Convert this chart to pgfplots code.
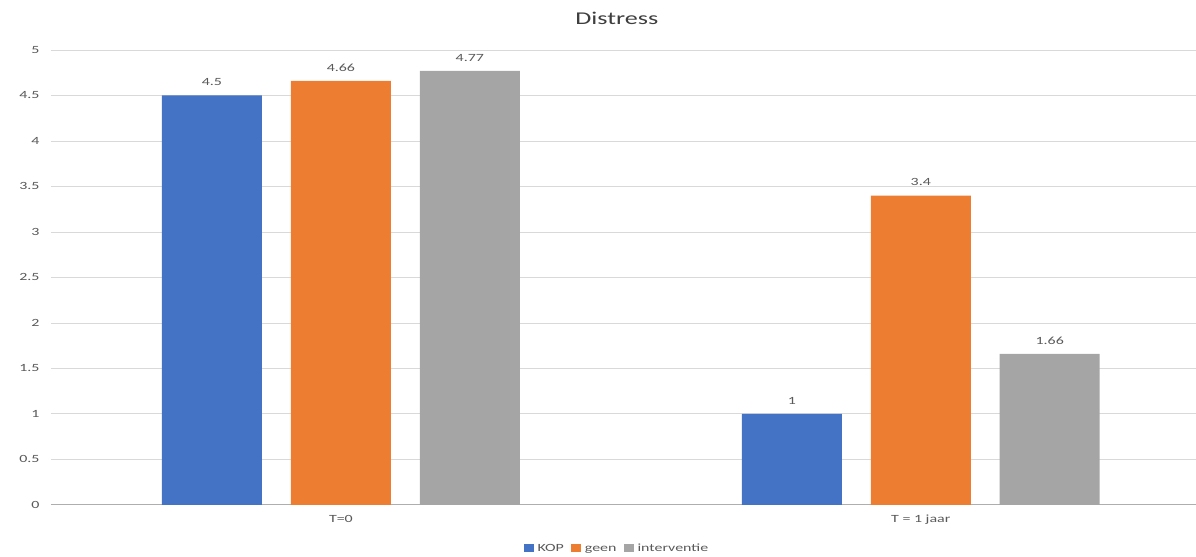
\documentclass[border=0pt]{standalone}
\usepackage{pgfplots}
\pgfplotsset{compat=1.18}
\usepackage{fontspec}
\setmainfont{Carlito}[FakeStretch=1.45]
\definecolor{cblue}{HTML}{4472C4}
\definecolor{corange}{HTML}{ED7D31}
\definecolor{cgray}{HTML}{A5A5A5}
\definecolor{ctext}{HTML}{595959}
\definecolor{cgrid}{HTML}{D9D9D9}
\begin{document}
\begin{tikzpicture}
\begin{axis}[
  at={(0,0)}, anchor=south west,
  scale only axis,
  width=1145pt, height=455pt,
  xmin=-0.5, xmax=1.474,
  ymin=0, ymax=5,
  ytick={0,0.5,...,5},
  xtick={0,1},
  xticklabels={T=0, T = 1 jaar},
  major tick length=0pt,
  ymajorgrids,
  grid style={cgrid, line width=0.8pt},
  axis x line*=bottom,
  axis y line*=left,
  y axis line style={draw=none},
  x axis line style={cgrid!80!black, line width=0.8pt},
  ticklabel style={font=\fontsize{11}{13}\selectfont, text=ctext},
  yticklabel style={xshift=-8pt},
  xticklabel style={yshift=-7pt},
  /pgf/number format/assume math mode=true,
  yticklabel={\pgfmathprintnumber[fixed, precision=1]{\tick}},
  ybar, bar width=100pt,
  nodes near coords,
  every node near coord/.append style={font=\fontsize{11}{13}\selectfont, text=ctext, yshift=6pt},
  legend style={draw=none, fill=none, font=\fontsize{11}{13}\selectfont, text=ctext,
    at={(0.494,-0.097)}, anchor=center, legend columns=3,
    nodes={text height=7pt, text depth=1.5pt, inner sep=1pt},
    /tikz/every odd column/.append style={column sep=3pt},
    /tikz/every even column/.append style={column sep=6pt}},
  legend image code/.code={\fill[#1] (0pt,-3pt) rectangle (10pt,4.5pt);},
  clip=false,
]
\addplot[draw=none, fill=cblue, bar shift=-129pt] coordinates {(0,4.5) (1,1)};
\addplot[draw=none, fill=corange, bar shift=0pt] coordinates {(0,4.66) (1,3.4)};
\addplot[draw=none, fill=cgray, bar shift=129pt] coordinates {(0,4.77) (1,1.66)};
\legend{KOP, geen, interventie}
\end{axis}
\node[font=\fontsize{18}{21}\selectfont, text=ctext!70!black] at (566pt,487pt) {Distress};
\path[use as bounding box] (-51pt,-51pt) rectangle (1145pt,505pt);
\end{tikzpicture}
\end{document}
